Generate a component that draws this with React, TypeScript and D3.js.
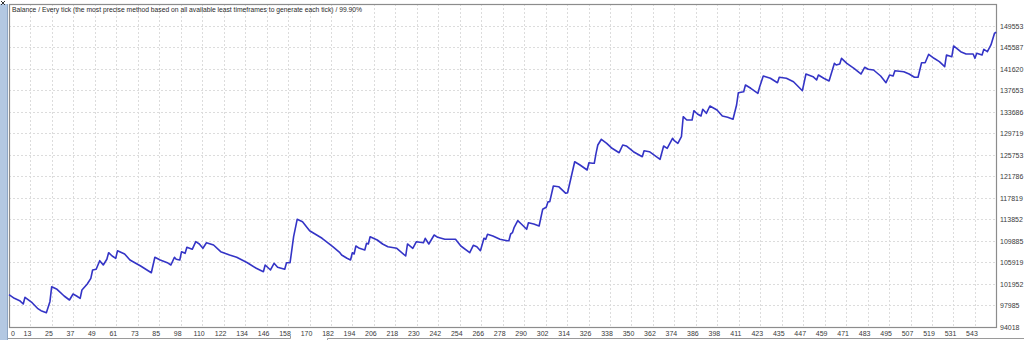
import React from "react";
import * as d3 from "d3";

const title =
  "Balance / Every tick (the most precise method based on all available least timeframes to generate each tick) / 99.90%";

const trades = [
  0, 3, 6, 8, 9, 13, 16, 18, 21, 23, 24, 27, 31, 34, 36, 38, 40, 41, 44, 46,
  47, 49, 51, 53, 55, 56, 58, 60, 61, 65, 68, 74, 80, 82, 85, 89, 91, 93, 94, 96,
  97, 99, 100, 103, 105, 107, 109, 111, 115, 119, 124, 128, 134, 139, 143, 144, 147, 149, 151, 155,
  156, 158, 160, 162, 165, 169, 176, 182, 186,
  187, 190, 192, 193, 194, 195, 197, 200, 201, 202, 203, 207, 210, 213, 218, 223, 224, 227, 229, 233,
  234, 236, 239, 241, 245, 251, 254, 259, 261, 263, 265, 267, 268, 269, 272, 276, 280, 281, 282, 283,
  284, 286, 288, 291, 292, 295, 298, 300, 302, 303, 304, 306, 309, 313, 314, 316, 318, 321, 325, 326,
  328, 329, 330, 331, 333, 336, 339, 343, 345, 347, 351, 356, 357, 360, 366, 368, 370,
  373, 374, 376, 378, 379, 381, 384, 385, 387, 389, 390, 392, 394, 398, 401, 404, 407, 409, 410, 413,
  414, 417, 421, 422, 424, 428, 432, 433, 437, 441, 446, 448, 452, 454, 455, 458, 461, 464, 465, 467,
  468, 471, 475, 478, 479, 481, 483, 486, 490, 493, 495, 497, 498, 503, 506, 509, 511, 513, 515, 517,
  520, 523, 526, 527, 530, 531, 535, 538, 542, 543, 544, 547, 548, 550, 552, 554, 555,
];

const balances = [
  100000, 99313, 98870, 98262, 99498, 98501, 97468, 97025, 96656, 98686,
  101453, 100974, 99738, 99000, 100107, 99738, 99313, 100845, 101952, 103003,
  104535, 104664, 106250, 105457, 106509, 107726, 107118, 106693, 108095, 107487,
  106380, 105273, 104036, 106878, 106380, 105881, 105457, 106878, 106509, 106380,
  107911, 107616, 108723, 108354, 109756, 109332, 108538, 109571, 109147, 107911,
  107302, 106878, 105881, 104848, 104221, 105457, 104535, 105771, 105033, 104664,
  105881, 105881, 110678, 113889, 113446, 111785, 110383, 108833, 107726,
  107302, 106693, 106380, 107726, 107487, 108963, 108538, 108225, 109461, 109332,
  110678, 110070, 109332, 108833, 108538, 107118, 109332, 108538, 109756, 109571,
  110383, 109332, 110992, 110568, 110199, 110199, 108963, 107726, 109092, 108833,
  108095, 110383, 110199, 111121, 110808, 110199, 109940, 109940, 111177, 111416,
  112413, 113630, 113022, 112044, 113261, 113022, 112653, 115734, 116103, 117136,
  117136, 120033, 119903, 118686, 118796, 121638, 124516, 123907, 122985, 124331,
  124221, 124221, 126066, 127597, 128649, 127911, 126988, 126176, 127597, 127413,
  126361, 125438, 126545, 126361, 124959, 127413, 126988,
  128833, 128390, 127911, 129128, 132818, 132210, 132210, 133925, 133317, 132948,
  134184, 133446, 134793, 134055, 132948, 132708, 132339, 134977, 137246, 137431,
  138667, 138058, 137136, 138353, 140328, 139903, 139091, 140088, 139903, 139276,
  137615, 140697, 140198, 139590, 140512, 139903, 139405, 142671, 142357, 142542,
  143593, 142671, 141748, 140936, 140697, 141933, 141564, 141435, 140328, 139091,
  140512, 140328, 141305, 141121, 140697, 140088, 140088, 142781, 142781, 144331,
  143593, 142966, 142043, 144202, 143888, 145863, 144811, 144387, 144387, 143593,
  144516, 144202, 145254, 144811, 146047, 148206, 148390,
];

const yTickValues = [
  94018, 97985, 101952, 105919, 109885, 113852, 117819, 121786, 125753, 129719,
  133686, 137653, 141620, 145587, 149553,
];

const xTickLabels = [
  "0", "13", "25", "37", "49", "61", "73", "85", "98", "110", "122", "134", "146", "158", "170",
  "182", "194", "206", "218", "230", "242", "254", "266", "278", "290", "302", "314", "326",
  "338", "350", "362", "374", "386", "398", "411", "423", "435", "447", "459", "471", "483",
  "495", "507", "519", "531", "543",
];

const W = 1024;
const H = 340;
const left = 9;
const right = 997;
const top = 4;
const bottom = 327;

export default function App() {
  const x = d3.scaleLinear().domain([0, 555.4]).range([left, right]);
  const y = d3.scaleLinear().domain([94018, 153611]).range([bottom, top]);
  const tickStep = 543 / 45;
  const xTicks = xTickLabels.map((l, i) => ({ label: l, t: i * tickStep }));
  const gridX: number[] = [];
  for (let i = 1; i * tickStep < 555.4; i++) gridX.push(i * tickStep);

  const pts: [number, number][] = trades.map((t, i) => [t, balances[i]]);
  const line = d3
    .line<[number, number]>()
    .x((d) => x(d[0]))
    .y((d) => y(d[1]));

  const font = "'Liberation Sans', Arial, sans-serif";

  return (
    <svg
      width={W}
      height={H}
      style={{ position: "absolute", left: 0, top: 0, background: "#fff" }}
    >
      <rect x={0} y={0} width={W} height={H} fill="#ffffff" />
      {/* left window strip */}
      <rect x={0} y={4} width={7} height={H - 4} fill="#b3c8e2" />
      <line x1={7.5} y1={4} x2={7.5} y2={H} stroke="#8ea6c4" strokeWidth={1} />
      <path d="M1,1 L5,5 M5,1 L1,5" stroke="#333" strokeWidth={1} />

      {/* grid */}
      {yTickValues.map((v) => (
        <line
          key={"gy" + v}
          x1={left}
          x2={right}
          y1={Math.round(y(v)) + 0.5}
          y2={Math.round(y(v)) + 0.5}
          stroke="#dcdcdc"
          strokeDasharray="2,2"
        />
      ))}
      {gridX.map((t) => (
        <line
          key={"gx" + t}
          x1={Math.round(x(t)) + 0.5}
          x2={Math.round(x(t)) + 0.5}
          y1={top}
          y2={bottom}
          stroke="#dcdcdc"
          strokeDasharray="2,2"
        />
      ))}

      {/* frame */}
      <rect
        x={left + 0.5}
        y={top + 0.5}
        width={right - left - 1}
        height={bottom - top}
        fill="none"
        stroke="#8c8c8c"
        strokeWidth={1.2}
      />

      {/* balance line */}
      <path d={line(pts) || ""} fill="none" stroke="#3434c6" strokeWidth={1.6} strokeLinejoin="round" />

      {/* title */}
      <text
        x={12}
        y={11.5}
        fontFamily={font}
        fontSize={7.5}
        fill="#2a2a2a"
        textLength={350}
        lengthAdjust="spacingAndGlyphs"
      >
        {title}
      </text>

      {/* y labels */}
      {yTickValues.map((v) => (
        <text
          key={"yl" + v}
          x={1000}
          y={y(v) + 2.8}
          fontFamily={font}
          fontSize={7}
          fill="#3a3a3a"
        >
          {v}
        </text>
      ))}

      {/* x labels */}
      {xTicks.map((d, i) => (
        <text
          key={"xl" + i}
          x={i === 0 ? x(d.t) + 2 : x(d.t) - 3}
          y={335.5}
          fontFamily={font}
          fontSize={7}
          fill="#3a3a3a"
          textAnchor={i === 0 ? "start" : "middle"}
        >
          {d.label}
        </text>
      ))}

      {/* bottom tab strip */}
      <path
        d="M8,338.5 L290.5,338.5 L290.5,336 M327.5,340 L327.5,338.5 L1024,338.5"
        fill="none"
        stroke="#9a9a9a"
        strokeWidth={1}
      />
    </svg>
  );
}
